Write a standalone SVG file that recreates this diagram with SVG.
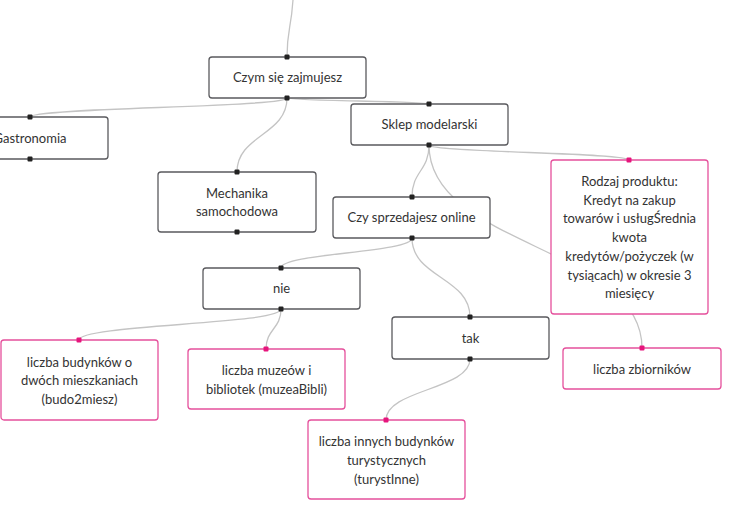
<svg xmlns="http://www.w3.org/2000/svg" width="754" height="522" viewBox="0 0 754 522">
<style>
.n{fill:#fff;stroke:#5a5a5e;stroke-width:1.3}
.p{fill:#fff;stroke:#e5509c;stroke-width:1.3}
.t{font-family:Lato,"Open Sans","Liberation Sans",sans-serif;font-size:13px;fill:#333;text-anchor:middle}
.c{fill:none;stroke:#c4c4c4;stroke-width:1.3}
.d{fill:#222}
.dp{fill:#e6157c}
</style>
<rect width="754" height="522" fill="#fff"/>
<g id="connectors">
<path class="c" d="M293,0 C291,30 287,30 287,57"/>
<path class="c" d="M287,98 C287,107.5 30,107.5 30,117"/>
<path class="c" d="M287,98 C287,101 429,101 429,104"/>
<path class="c" d="M287,98 C287,135 237,135 237,172"/>
<path class="c" d="M429,145 C429,171 412,171 412,197"/>
<path class="c" d="M429,145 C429,152.5 629,152.5 629,160"/>
<path class="c" d="M429,145 C429,246.5 642,246.5 642,348"/>
<path class="c" d="M412,238 C412,253 281,253 281,268"/>
<path class="c" d="M412,238 C412,277.5 470,277.5 470,317"/>
<path class="c" d="M281,309 C281,324.5 79,324.5 79,340"/>
<path class="c" d="M281,309 C281,329 266,329 266,349"/>
<path class="c" d="M470,359 C470,389.5 386,389.5 386,420"/>
</g>
<g id="czym">
<rect class="n" x="209" y="57" width="157" height="41" rx="3"/>
<text class="t" x="287.5" y="82">Czym się zajmujesz</text>
<rect class="d" x="284.5" y="54.5" width="5" height="5" rx="1"/><rect class="d" x="284.5" y="95.5" width="5" height="5" rx="1"/>
</g>
<g id="gastronomia">
<rect class="n" x="-49" y="117" width="157" height="42" rx="3"/>
<text class="t" x="30" y="142.5">Gastronomia</text>
<rect class="d" x="27.5" y="114.5" width="5" height="5" rx="1"/><rect class="d" x="27.5" y="156.5" width="5" height="5" rx="1"/>
</g>
<g id="sklep">
<rect class="n" x="351" y="104" width="157" height="41" rx="3"/>
<text class="t" x="429.5" y="129">Sklep modelarski</text>
<rect class="d" x="426.5" y="101.5" width="5" height="5" rx="1"/><rect class="d" x="426.5" y="142.5" width="5" height="5" rx="1"/>
</g>
<g id="mechanika">
<rect class="n" x="158" y="172" width="158" height="60" rx="3"/>
<text class="t" x="237" y="197.5">Mechanika</text>
<text class="t" x="237" y="216">samochodowa</text>
<rect class="d" x="234.5" y="169.5" width="5" height="5" rx="1"/><rect class="d" x="234.5" y="229.5" width="5" height="5" rx="1"/>
</g>
<g id="czy">
<rect class="n" x="333" y="197" width="157" height="41" rx="3"/>
<text class="t" x="411.5" y="222">Czy sprzedajesz online</text>
<rect class="d" x="409.5" y="194.5" width="5" height="5" rx="1"/><rect class="d" x="409.5" y="235.5" width="5" height="5" rx="1"/>
</g>
<g id="rodzaj">
<rect class="p" x="551" y="160" width="157" height="154" rx="3"/>
<text class="t" x="629.5" y="186">Rodzaj produktu:</text>
<text class="t" x="629.5" y="204.7">Kredyt na zakup</text>
<text class="t" x="629.5" y="223.4">towarów i usługŚrednia</text>
<text class="t" x="629.5" y="242.1">kwota</text>
<text class="t" x="629.5" y="260.8">kredytów/pożyczek (w</text>
<text class="t" x="629.5" y="279.5">tysiącach) w okresie 3</text>
<text class="t" x="629.5" y="298.2">miesięcy</text>
<rect class="dp" x="626.5" y="157.5" width="5" height="5" rx="1"/>
</g>
<g id="nie">
<rect class="n" x="203" y="268" width="157" height="41" rx="3"/>
<text class="t" x="281.5" y="293">nie</text>
<rect class="d" x="278.5" y="265.5" width="5" height="5" rx="1"/><rect class="d" x="278.5" y="306.5" width="5" height="5" rx="1"/>
</g>
<g id="tak">
<rect class="n" x="392" y="317" width="157" height="42" rx="3"/>
<text class="t" x="470.5" y="342.5">tak</text>
<rect class="d" x="467.5" y="314.5" width="5" height="5" rx="1"/><rect class="d" x="467.5" y="356.5" width="5" height="5" rx="1"/>
</g>
<g id="budo2miesz">
<rect class="p" x="1" y="340" width="157" height="80" rx="3"/>
<text class="t" x="79.5" y="366.5">liczba budynków o</text>
<text class="t" x="79.5" y="385.2">dwóch mieszkaniach</text>
<text class="t" x="79.5" y="404">(budo2miesz)</text>
<rect class="dp" x="76.5" y="337.5" width="5" height="5" rx="1"/>
</g>
<g id="muzea">
<rect class="p" x="188" y="349" width="157" height="60" rx="3"/>
<text class="t" x="266.5" y="375">liczba muzeów i</text>
<text class="t" x="266.5" y="393.5">bibliotek (muzeaBibli)</text>
<rect class="dp" x="263.5" y="346.5" width="5" height="5" rx="1"/>
</g>
<g id="turystInne">
<rect class="p" x="308" y="420" width="157" height="79" rx="3"/>
<text class="t" x="386.5" y="446">liczba innych budynków</text>
<text class="t" x="386.5" y="465">turystycznych</text>
<text class="t" x="386.5" y="484">(turystInne)</text>
<rect class="dp" x="383.5" y="417.5" width="5" height="5" rx="1"/>
</g>
<g id="zbiorniki">
<rect class="p" x="563" y="348" width="158" height="41" rx="3"/>
<text class="t" x="642" y="373.5">liczba zbiorników</text>
<rect class="dp" x="639.5" y="345.5" width="5" height="5" rx="1"/>
</g>
</svg>
